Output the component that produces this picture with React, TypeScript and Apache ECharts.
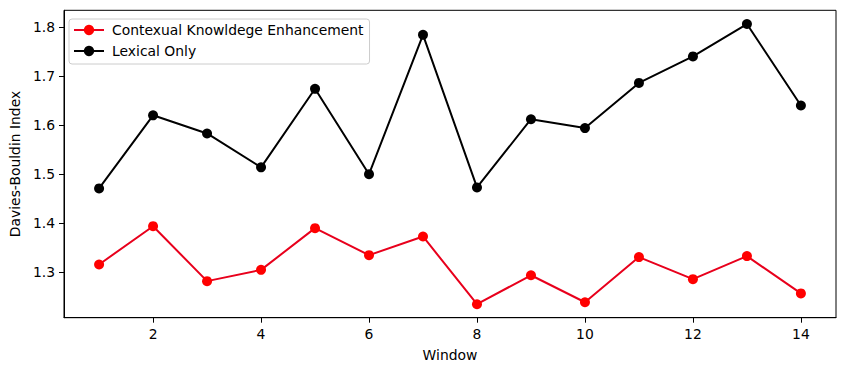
import React, { useEffect, useRef } from "react";
import * as echarts from "echarts";

const windows = [1, 2, 3, 4, 5, 6, 7, 8, 9, 10, 11, 12, 13, 14];
const contextual = [1.316, 1.394, 1.282, 1.305, 1.390, 1.335, 1.373, 1.235, 1.294, 1.239, 1.331, 1.286, 1.333, 1.257];
const lexical = [1.471, 1.620, 1.583, 1.514, 1.674, 1.500, 1.784, 1.473, 1.612, 1.594, 1.686, 1.740, 1.806, 1.640];
const xTicks = [2, 4, 6, 8, 10, 12, 14];
const yTicks = [1.3, 1.4, 1.5, 1.6, 1.7, 1.8];
const seriesNames = ["Contexual Knowldege Enhancement", "Lexical Only"];

const FONT = "DejaVu Sans";

export default function App() {
  const ref = useRef<HTMLDivElement>(null);
  useEffect(() => {
    document.body.style.margin = "0";
    const chart = echarts.init(ref.current!, null, { renderer: "svg" });
    const axisCommon = {
      axisLine: { show: true, onZero: false, lineStyle: { color: "#000", width: 1 } },
      axisTick: { show: true, length: 5, lineStyle: { color: "#000", width: 1 } },
      splitLine: { show: false },
    };
    chart.setOption({
      animation: false,
      backgroundColor: "#fff",
      textStyle: { fontFamily: FONT },
      grid: {
        left: 61.3,
        top: 10.3,
        right: 10,
        bottom: 53.3,
        show: true,
        borderColor: "#000",
        borderWidth: 1,
        backgroundColor: "transparent",
      },
      legend: {
        orient: "vertical",
        left: 69,
        top: 19,
        padding: [4, 6, 6, 4],
        itemWidth: 30,
        itemHeight: 13,
        itemGap: 7,
        backgroundColor: "rgba(255,255,255,0.8)",
        borderColor: "#ccc",
        borderWidth: 1,
        borderRadius: 3,
        textStyle: { fontFamily: FONT, fontSize: 13.9, color: "#000", padding: [0, 0, 0, 3] },
        data: seriesNames,
      },
      xAxis: {
        type: "value",
        min: 0.35,
        max: 14.65,
        name: "Window",
        nameLocation: "middle",
        nameGap: 30,
        nameTextStyle: { fontFamily: FONT, fontSize: 13.9, color: "#000" },
        ...axisCommon,
        axisTick: { ...axisCommon.axisTick, customValues: xTicks },
        axisLabel: {
          customValues: xTicks,
          margin: 9,
          fontFamily: FONT,
          fontSize: 13.9,
          color: "#000",
          formatter: (v: number) => String(v),
        },
      },
      yAxis: {
        type: "value",
        min: 1.2075,
        max: 1.834,
        name: "Davies-Bouldin Index",
        nameLocation: "middle",
        nameGap: 40,
        nameTextStyle: { fontFamily: FONT, fontSize: 13.9, color: "#000" },
        ...axisCommon,
        axisTick: { ...axisCommon.axisTick, customValues: yTicks },
        axisLabel: {
          customValues: yTicks,
          margin: 9,
          fontFamily: FONT,
          fontSize: 13.9,
          color: "#000",
          formatter: (v: number) => v.toFixed(1),
        },
      },
      series: [
        {
          name: seriesNames[0],
          type: "line",
          data: windows.map((w, i) => [w, contextual[i]]),
          symbol: "circle",
          symbolSize: 10,
          itemStyle: { color: "#ff0000" },
          lineStyle: { color: "#e8001c", width: 2 },
        },
        {
          name: seriesNames[1],
          type: "line",
          data: windows.map((w, i) => [w, lexical[i]]),
          symbol: "circle",
          symbolSize: 10,
          itemStyle: { color: "#000" },
          lineStyle: { color: "#000", width: 2 },
        },
      ],
    });
    return () => chart.dispose();
  }, []);
  return (
    <div
      ref={ref}
      style={{ position: "absolute", left: 0, top: 0, width: 846, height: 371 }}
    />
  );
}
